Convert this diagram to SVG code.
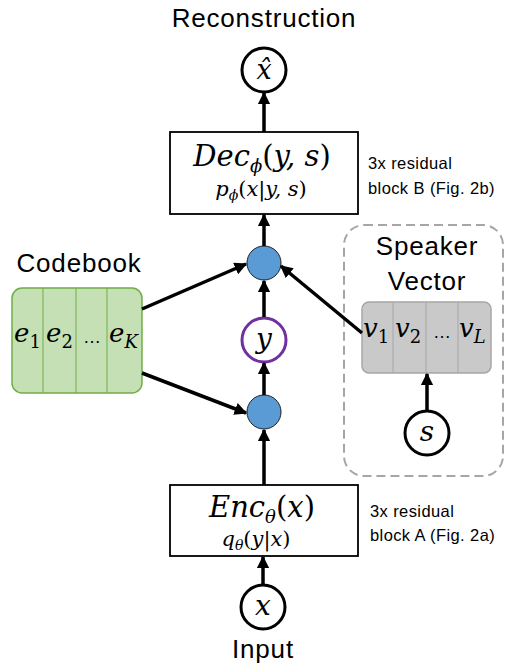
<svg xmlns="http://www.w3.org/2000/svg" width="507" height="667" viewBox="0 0 507 667">
<defs>
<marker id="ah" viewBox="0 0 10 10" refX="9" refY="5" markerWidth="3.6" markerHeight="3.6" orient="auto" markerUnits="strokeWidth">
<path d="M0,0 L10,5 L0,10 z" fill="#000"/>
</marker>
<style>
.sans{font-family:"Liberation Sans","Open Sans",sans-serif;fill:#000}
.title{font-size:26px;letter-spacing:0.8px}
.note{font-size:16.5px;letter-spacing:0.4px}
.math{font-family:"DejaVu Serif","Liberation Serif",serif;font-style:italic;fill:#000}
.up{font-style:normal}
.box{fill:#fff;stroke:#000;stroke-width:1.8}
.circ{fill:#fff;stroke:#000;stroke-width:3}
.blue{fill:#5B9BD5;stroke:#1F1F1F;stroke-width:1}
.con{stroke:#000;stroke-width:3.5;fill:none;marker-end:url(#ah)}
.cell{stroke-width:1}
</style>
</defs>
<rect width="507" height="667" fill="#fff"/>

<text class="sans title" x="264" y="27" text-anchor="middle">Reconstruction</text>

<g id="xhat">
<circle class="circ" cx="264" cy="70" r="22"/>
<text class="math" x="264" y="79" font-size="27" text-anchor="middle">x̂</text>
</g>

<g id="decoder">
<rect class="box" x="170" y="132" width="188" height="82"/>
<text class="math" x="262" y="166" font-size="29" text-anchor="middle">Dec<tspan font-size="18" dy="6">ϕ</tspan><tspan dy="-6" class="up">(</tspan>y, s<tspan class="up">)</tspan></text>
<text class="math" x="261" y="196" font-size="21" text-anchor="middle">p<tspan font-size="14" dy="4">ϕ</tspan><tspan dy="-4" class="up">(</tspan>x<tspan class="up">|</tspan>y, s<tspan class="up">)</tspan></text>
<text class="sans note" x="368" y="169">3x residual</text>
<text class="sans note" x="368" y="194">block B (Fig. 2b)</text>
</g>

<g id="merge-top"><circle class="blue" cx="264" cy="263" r="17"/></g>

<g id="y">
<circle cx="264" cy="340" r="22" fill="#fff" stroke="#7030A0" stroke-width="3"/>
<text class="math" x="264" y="348" font-size="28" text-anchor="middle">y</text>
</g>

<g id="merge-bottom"><circle class="blue" cx="264" cy="412" r="17"/></g>

<g id="encoder">
<rect class="box" x="170" y="485" width="188" height="71"/>
<text class="math" x="262" y="517" font-size="29" text-anchor="middle">Enc<tspan font-size="18" dy="6">θ</tspan><tspan dy="-6" class="up">(</tspan>x<tspan class="up">)</tspan></text>
<text class="math" x="256" y="546" font-size="21" text-anchor="middle">q<tspan font-size="14" dy="4">θ</tspan><tspan dy="-4" class="up">(</tspan>y<tspan class="up">|</tspan>x<tspan class="up">)</tspan></text>
<text class="sans note" x="370" y="517">3x residual</text>
<text class="sans note" x="370" y="541">block A (Fig. 2a)</text>
</g>

<g id="x">
<circle class="circ" cx="263" cy="607" r="22"/>
<text class="math" x="263" y="615" font-size="28" text-anchor="middle">x</text>
<text class="sans title" x="263" y="658" text-anchor="middle">Input</text>
</g>

<g id="codebook">
<text class="sans title" x="79" y="272" text-anchor="middle">Codebook</text>
<rect x="12" y="288" width="130" height="105" rx="10" fill="#C5E0B4" stroke="#70AD47" stroke-width="1.5"/>
<line x1="43" y1="288" x2="43" y2="393" stroke="#70AD47" class="cell"/>
<line x1="76" y1="288" x2="76" y2="393" stroke="#70AD47" class="cell"/>
<line x1="107" y1="288" x2="107" y2="393" stroke="#70AD47" class="cell"/>
<text class="math" x="14" y="342" font-size="26">e<tspan font-size="18" dy="6" class="up">1</tspan></text>
<text class="math" x="46" y="342" font-size="26">e<tspan font-size="18" dy="6" class="up">2</tspan></text>
<text class="sans" x="92" y="343" font-size="18" text-anchor="middle">…</text>
<text class="math" x="109" y="342" font-size="26">e<tspan font-size="18" dy="6">K</tspan></text>
</g>

<g id="speaker">
<rect x="344" y="225" width="159" height="251" rx="20" fill="none" stroke="#A6A6A6" stroke-width="2" stroke-dasharray="9,5"/>
<text class="sans title" x="427" y="255" text-anchor="middle">Speaker</text>
<text class="sans title" x="427" y="290" text-anchor="middle">Vector</text>
<rect x="362" y="302" width="129" height="71" rx="7" fill="#C9C9C9" stroke="#A6A6A6" stroke-width="1.5"/>
<line x1="393" y1="302" x2="393" y2="373" stroke="#A6A6A6" class="cell"/>
<line x1="426" y1="302" x2="426" y2="373" stroke="#A6A6A6" class="cell"/>
<line x1="458" y1="302" x2="458" y2="373" stroke="#A6A6A6" class="cell"/>
<text class="math" x="363" y="337" font-size="26">v<tspan font-size="18" dy="6" class="up">1</tspan></text>
<text class="math" x="395" y="337" font-size="26">v<tspan font-size="18" dy="6" class="up">2</tspan></text>
<text class="sans" x="442" y="338" font-size="18" text-anchor="middle">…</text>
<text class="math" x="459" y="337" font-size="26">v<tspan font-size="18" dy="6">L</tspan></text>
</g>

<g id="s">
<circle class="circ" cx="427" cy="433" r="22"/>
<text class="math" x="427" y="441" font-size="28" text-anchor="middle">s</text>
</g>

<g id="connectors">
<line class="con" x1="264" y1="132" x2="264" y2="93"/>
<line class="con" x1="264" y1="246" x2="264" y2="215"/>
<line class="con" x1="264" y1="317" x2="264" y2="281"/>
<line class="con" x1="264" y1="395" x2="264" y2="363"/>
<line class="con" x1="264" y1="485" x2="264" y2="430"/>
<line class="con" x1="263" y1="584" x2="263" y2="557"/>
<line class="con" x1="142" y1="309" x2="246" y2="264"/>
<line class="con" x1="142" y1="373" x2="246" y2="413"/>
<line class="con" x1="362" y1="333" x2="281" y2="266"/>
<line class="con" x1="427" y1="410" x2="427" y2="374"/>
</g>
</svg>
